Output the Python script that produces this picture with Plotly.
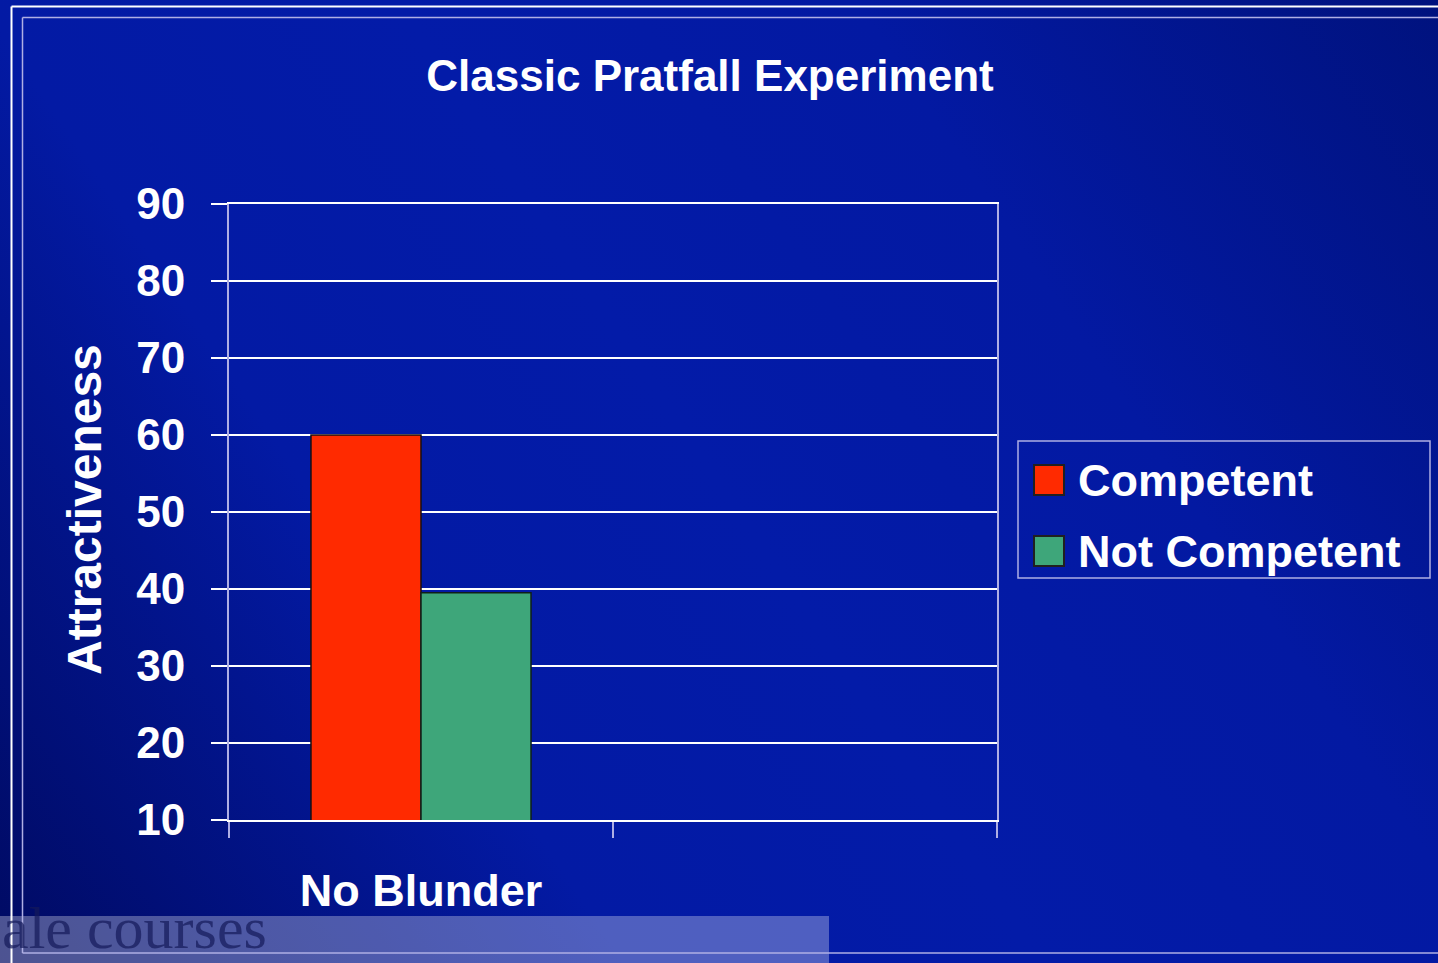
import base64
import plotly.graph_objects as go

# ---------------- data ----------------
categories = ["No Blunder", "Blunder"]
tick_labels = ["No Blunder", ""]
series_names = ["Competent", "Not Competent"]
competent = [60, None]
not_competent = [39.5, None]
y_ticks = [10, 20, 30, 40, 50, 60, 70, 80, 90]
y_tick_labels = ["10", "20", "30", "40", "50", "60", "70", "80", "90"]
title_text = "Classic Pratfall Experiment"
y_title = "Attractiveness"
watermark = "ale courses"

# ---------------- styling ----------------
W, H = 1438, 963
L, R, T, B = 229, 997, 204, 820
PW, PH = R - L, B - T
FONT = "Liberation Sans, Arial, sans-serif"
RED = "#FF2A00"
GREEN = "#3EA67A"
LAV = "rgb(175,175,228)"


def px(x):
    return (x - L) / PW


def py(y):
    return (B - y) / PH


svg = f"""<svg xmlns='http://www.w3.org/2000/svg' width='{W}' height='{H}' viewBox='0 0 {W} {H}' preserveAspectRatio='none'>
<defs><linearGradient id='g' gradientUnits='userSpaceOnUse' x1='0' y1='{H}' x2='{W}' y2='0'>
<stop offset='0' stop-color='#000A62'/>
<stop offset='0.3' stop-color='#031AA4'/>
<stop offset='0.5' stop-color='#031BA8'/>
<stop offset='0.72' stop-color='#0319A2'/>
<stop offset='1' stop-color='#00127E'/>
</linearGradient></defs>
<rect x='0' y='0' width='{W}' height='{H}' fill='url(#g)'/></svg>"""
bg_src = "data:image/svg+xml;base64," + base64.b64encode(svg.encode()).decode()

fig = go.Figure()
fig.add_trace(go.Bar(x=categories, y=competent, name=series_names[0],
                     marker=dict(color=RED, line=dict(color="#1a1010", width=1.5)),
                     showlegend=False, hoverinfo="skip"))
fig.add_trace(go.Bar(x=categories, y=not_competent, name=series_names[1],
                     marker=dict(color=GREEN, line=dict(color="#10201a", width=1.5)),
                     showlegend=False, hoverinfo="skip"))

shapes = []
# watermark strip
shapes.append(dict(type="rect", xref="paper", yref="paper",
                   x0=px(-5), x1=px(829), y0=py(916), y1=py(970),
                   fillcolor="rgba(255,255,255,0.30)", line=dict(width=0), layer="above"))
# outer white frame
shapes.append(dict(type="line", xref="paper", yref="paper", x0=px(11.5), x1=px(1445),
                   y0=py(6.5), y1=py(6.5), line=dict(color="white", width=2)))
shapes.append(dict(type="line", xref="paper", yref="paper", x0=px(11.5), x1=px(11.5),
                   y0=py(6.5), y1=py(970), line=dict(color="white", width=2)))
# inner lavender frame
for seg in [((22.5, 17.5), (1445, 17.5)), ((22.5, 17.5), (22.5, 953)), ((22.5, 953), (1445, 953))]:
    (xa, ya), (xb, yb) = seg
    shapes.append(dict(type="line", xref="paper", yref="paper", x0=px(xa), x1=px(xb),
                       y0=py(ya), y1=py(yb), line=dict(color=LAV, width=1.5)))
# legend box and swatches
shapes.append(dict(type="rect", xref="paper", yref="paper", x0=px(1018), x1=px(1430),
                   y0=py(441), y1=py(578), line=dict(color=LAV, width=1.5)))
swatch_rows = [480, 551]
for c, yc in zip([RED, GREEN], swatch_rows):
    shapes.append(dict(type="rect", xref="paper", yref="paper", x0=px(1034), x1=px(1064),
                       y0=py(yc - 15), y1=py(yc + 15), fillcolor=c,
                       line=dict(color="#202020", width=2)))

annotations = []
for name, yc in zip(series_names, swatch_rows):
    annotations.append(dict(text=name, xref="paper", yref="paper", x=px(1076), y=py(yc),
                            xanchor="left", yanchor="middle", showarrow=False,
                            font=dict(family=FONT, size=45, color="white", weight="bold")))
annotations.append(dict(text=y_title, xref="paper", yref="paper", x=px(84), y=py(510),
                        xanchor="center", yanchor="middle", textangle=-90, showarrow=False,
                        font=dict(family=FONT, size=48, color="white", weight="bold")))
annotations.append(dict(text=watermark, xref="paper", yref="paper", x=px(1), y=py(962),
                        xanchor="left", yanchor="bottom", showarrow=False, borderpad=0,
                        font=dict(family="Liberation Serif, Times New Roman, serif", size=60,
                                  color="rgba(20,25,90,0.7)")))

fig.update_layout(
    width=W, height=H, autosize=False,
    margin=dict(l=L, r=W - R, t=T, b=H - B, pad=0),
    paper_bgcolor="#0318A0", plot_bgcolor="rgba(0,0,0,0)",
    barmode="group", bargap=0.427, bargroupgap=0,
    title=dict(text=title_text, x=710 / W, xref="container", xanchor="center",
               y=1 - 76 / H, yref="container", yanchor="middle",
               font=dict(family=FONT, size=44, color="white", weight="bold")),
    xaxis=dict(type="category", categoryorder="array", categoryarray=categories,
               range=[-0.5, 1.5], tickson="boundaries", ticks="outside", ticklen=16,
               tickwidth=2, tickcolor=LAV, showline=True, linecolor="white", linewidth=2,
               mirror=True, tickmode="array", tickvals=categories, ticktext=tick_labels,
               tickfont=dict(family=FONT, size=45, color="white", weight="bold"),
               ticklabelstandoff=30, showgrid=False, zeroline=False, fixedrange=True),
    yaxis=dict(range=[10, 90], tickmode="array", tickvals=y_ticks, ticktext=y_tick_labels,
               ticks="outside", ticklen=16, tickwidth=1.5, tickcolor="white",
               showgrid=True, gridcolor="white", gridwidth=1.5,
               showline=True, linecolor=LAV, linewidth=2, mirror=True, zeroline=False,
               tickfont=dict(family=FONT, size=44, color="white", weight="bold"),
               ticklabelstandoff=17, fixedrange=True),
    images=[dict(source=bg_src, xref="paper", yref="paper", x=px(0), y=py(0),
                 sizex=W / PW, sizey=H / PH, sizing="stretch", xanchor="left",
                 yanchor="top", layer="below")],
    shapes=shapes, annotations=annotations, showlegend=False,
)

fig.write_html("out.html", config={"displayModeBar": False},
               post_script="document.body.style.margin='0';document.body.style.overflow='hidden';")
